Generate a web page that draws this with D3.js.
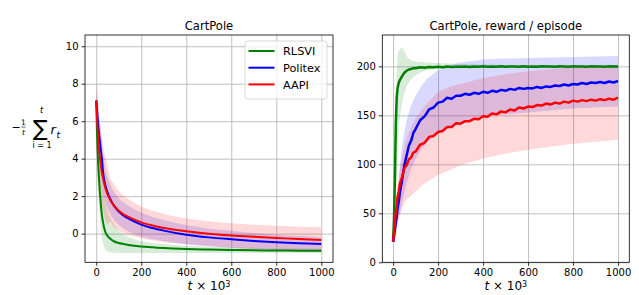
<!DOCTYPE html>
<html>
<head>
<meta charset="utf-8">
<script src="https://cdn.jsdelivr.net/npm/d3@7"></script>
<style>
body { margin: 0; background: #fff; }
svg text { font-family: "DejaVu Sans", sans-serif; fill: #000; }
</style>
</head>
<body>
<svg id="chart" width="639" height="295"></svg>
<script>
// series names, shared by both panels
const names = ["RLSVI", "Politex", "AAPI"];

// left panel: -(1/t) sum r_t, t in thousands
const tLeft = [0, 3, 6, 10, 15, 20, 25, 30, 40, 50, 60, 80, 100, 125, 150, 200, 250, 300, 400, 500, 600, 700, 800, 900, 1000];
const rlsviLeft = [7.1, 5.5, 4.4, 3.4, 2.4, 1.6, 1.0, 0.6, 0.1, -0.12, -0.25, -0.42, -0.5, -0.56, -0.62, -0.69, -0.73, -0.77, -0.82, -0.85, -0.87, -0.89, -0.9, -0.91, -0.92];
const rlsviLeftHi = [7.1, 6.6, 5.9, 5.2, 4.3, 3.6, 3.0, 2.5, 1.7, 1.2, 0.9, 0.45, 0.15, -0.05, -0.2, -0.4, -0.5, -0.55, -0.65, -0.7, -0.73, -0.76, -0.78, -0.8, -0.81];
const rlsviLeftLo = [7.1, 4.3, 3.0, 2.0, 1.0, 0.3, -0.2, -0.5, -0.85, -0.95, -1.0, -1.02, -1.03, -1.03, -1.03, -1.03, -1.03, -1.03, -1.03, -1.03, -1.03, -1.03, -1.03, -1.03, -1.03];
const politexLeft = [7.1, 6.7, 6.2, 5.6, 5.05, 4.5, 4.0, 3.3, 2.6, 2.2, 1.9, 1.46, 1.18, 0.93, 0.76, 0.48, 0.3, 0.16, -0.06, -0.2, -0.3, -0.39, -0.46, -0.51, -0.55];
const politexLeftHi = [7.1, 7.3, 7.0, 6.5, 6.05, 5.5, 5.0, 4.25, 3.5, 3.05, 2.7, 2.21, 1.9, 1.63, 1.44, 1.13, 0.9, 0.73, 0.46, 0.28, 0.15, 0.03, -0.06, -0.13, -0.19];
const politexLeftLo = [7.1, 6.1, 5.4, 4.7, 4.05, 3.5, 3.0, 2.35, 1.7, 1.35, 1.1, 0.71, 0.46, 0.23, 0.08, -0.17, -0.3, -0.41, -0.58, -0.68, -0.75, -0.81, -0.86, -0.89, -0.91];
const aapiLeft = [7.1, 6.3, 5.6, 4.85, 4.2, 3.7, 3.25, 2.95, 2.45, 2.1, 1.85, 1.48, 1.22, 1.0, 0.85, 0.6, 0.43, 0.3, 0.13, 0.0, -0.1, -0.17, -0.23, -0.29, -0.34];
const aapiLeftHi = [7.1, 8.0, 7.4, 6.75, 6.1, 5.6, 5.05, 4.7, 4.15, 3.7, 3.05, 2.63, 2.27, 2.0, 1.8, 1.45, 1.23, 1.05, 0.82, 0.66, 0.55, 0.48, 0.42, 0.38, 0.34];
const aapiLeftLo = [7.1, 4.6, 3.8, 2.95, 2.3, 1.8, 1.45, 1.2, 0.75, 0.5, 0.65, 0.33, 0.17, 0.0, -0.1, -0.25, -0.37, -0.45, -0.56, -0.66, -0.75, -0.82, -0.88, -0.94, -1.0];

// right panel: reward per episode
const tRight = [0, 4, 8, 12, 16, 20, 25, 30, 40, 50, 60, 70, 80, 90, 100, 120, 140, 160, 180, 200, 220, 240, 260, 280, 300, 320, 340, 360, 380, 400, 420, 440, 460, 480, 500, 520, 540, 560, 580, 600, 620, 640, 660, 680, 700, 720, 740, 760, 780, 800, 820, 840, 860, 880, 900, 920, 940, 960, 980, 1000];
const rlsviRight = [21, 45, 85, 140, 168, 178, 183, 186, 190, 193.5, 195.5, 196.8, 197.2, 198.3, 198.0, 199.1, 198.6, 199.4, 199.0, 199.6, 199.2, 199.8, 199.3, 199.7, 199.5, 199.9, 199.4, 199.8, 199.6, 200, 199.5, 199.9, 199.7, 200, 199.6, 199.9, 199.8, 199.5, 200, 199.7, 199.9, 199.6, 200, 199.8, 199.9, 199.6, 200, 199.8, 199.7, 200, 199.8, 199.9, 199.7, 200, 199.8, 199.9, 199.7, 200, 199.8, 199.9];
const politexRight = [21, 27, 34, 40, 47, 55, 62, 71, 84, 99, 109, 119, 124, 132, 136, 145, 149, 156, 158, 163, 164, 168, 167, 170, 170, 172, 171, 173, 172, 174, 173, 175, 174, 176, 175, 177, 176, 178, 177, 178, 177.5, 179, 178, 179.5, 179, 180.5, 180, 181.5, 180.5, 182, 181.5, 183, 182, 183.5, 183, 184, 183, 184.5, 183.5, 185];
const aapiRight = [21, 31, 40, 51, 58, 67, 72, 80, 87, 96, 99, 105, 107, 112, 113, 120, 122, 128, 129, 133, 134, 138, 138, 142, 141.5, 144, 144, 146.5, 146, 149, 148.5, 152, 151, 154, 153, 156, 155, 158, 157, 159, 158.5, 160.5, 160, 162, 161, 163, 162, 164, 163, 165, 164, 165.5, 164.5, 166, 165, 166.5, 165.5, 167, 166, 168];

const tBand = [0, 5, 10, 15, 20, 30, 40, 50, 60, 80, 100, 125, 150, 200, 250, 300, 400, 500, 600, 700, 800, 900, 1000];
const rlsviRightHi = [21, 70, 140, 190, 212, 218, 219, 216, 210, 206, 205, 204.5, 204, 203.5, 203, 202.5, 202, 201.5, 201.5, 201.2, 201, 201, 201];
const rlsviRightLo = [20, 22, 35, 80, 120, 148, 163, 172, 180, 187, 191, 194, 196, 197.5, 198, 198.5, 198.8, 199, 199, 199, 199, 199, 199];
const politexRightHi = [22, 35, 48, 62, 75, 98, 118, 133, 145, 160, 170, 180, 187, 196, 201, 204, 207, 208, 208.5, 209, 209.5, 210, 210.5];
const politexRightLo = [20, 22, 25, 32, 40, 50, 60, 70, 80, 95, 105, 115, 122, 132, 138, 142, 148, 151, 153, 155, 157, 158, 159];
const aapiRightHi = [22, 38, 52, 64, 75, 95, 108, 118, 126, 138, 147, 155, 162, 174, 179, 182, 188, 192, 195, 197, 199, 200, 201];
const aapiRightLo = [20, 22, 25, 32, 40, 48, 55, 60, 64, 68, 72, 78, 82, 89, 94, 99, 106, 111, 115, 118, 121, 123, 125];

// ticks
const xTicks = [0, 200, 400, 600, 800, 1000];
const yTicksLeft = [0, 2, 4, 6, 8, 10];
const yTicksRight = [0, 50, 100, 150, 200];

const colors = ["#008000", "#0000ff", "#ff0000"];

const svg = d3.select("#chart");

function panel(opt) {
    const g = svg.append("g");
    const x = d3.scaleLinear().domain(opt.xDomain).range([opt.left, opt.right]);
    const y = d3.scaleLinear().domain(opt.yDomain).range([opt.bottom, opt.top]);
    const w = opt.right - opt.left, h = opt.bottom - opt.top;

    g.append("clipPath").attr("id", opt.id + "-clip")
        .append("rect").attr("x", opt.left).attr("y", opt.top).attr("width", w).attr("height", h);

    // grid
    g.append("g").attr("transform", `translate(0,${opt.bottom})`)
        .call(d3.axisBottom(x).tickValues(xTicks).tickSize(-h).tickFormat(""))
        .call(s => s.select(".domain").remove())
        .selectAll("line").attr("stroke", "#b0b0b0").attr("stroke-width", 0.8);
    g.append("g").attr("transform", `translate(${opt.left},0)`)
        .call(d3.axisLeft(y).tickValues(opt.yTicks).tickSize(-w).tickFormat(""))
        .call(s => s.select(".domain").remove())
        .selectAll("line").attr("stroke", "#b0b0b0").attr("stroke-width", 0.8);

    const plot = g.append("g").attr("clip-path", `url(#${opt.id}-clip)`);

    opt.bands.forEach((b, i) => {
        const area = d3.area()
            .x((d, j) => x(b.t[j]))
            .y0((d, j) => y(b.lo[j]))
            .y1((d, j) => y(b.hi[j]))
            .curve(opt.curve);
        plot.append("path").datum(b.t)
            .attr("d", area)
            .attr("fill", colors[i])
            .attr("fill-opacity", 0.15);
    });

    opt.lines.forEach((l, i) => {
        const line = d3.line()
            .x((d, j) => x(l.t[j]))
            .y(d => y(d))
            .curve(opt.curve);
        plot.append("path").datum(l.v)
            .attr("d", line)
            .attr("fill", "none")
            .attr("stroke", colors[i])
            .attr("stroke-width", opt.lineWidth)
            .attr("stroke-linejoin", "round");
    });

    // axes
    const xa = g.append("g").attr("transform", `translate(0,${opt.bottom})`)
        .call(d3.axisBottom(x).tickValues(xTicks).tickSize(3.5).tickPadding(3).tickFormat(d3.format("d")));
    const ya = g.append("g").attr("transform", `translate(${opt.left},0)`)
        .call(d3.axisLeft(y).tickValues(opt.yTicks).tickSize(3.5).tickPadding(3).tickFormat(d3.format("d")));
    [xa, ya].forEach(a => {
        a.select(".domain").remove();
        a.selectAll("line").attr("stroke", "#000").attr("stroke-width", 0.8);
        a.selectAll("text").attr("font-size", "10px").attr("font-family", "DejaVu Sans");
    });

    g.append("rect")
        .attr("x", opt.left).attr("y", opt.top).attr("width", w).attr("height", h)
        .attr("fill", "none").attr("stroke", "#000").attr("stroke-width", 0.8);

    g.append("text")
        .attr("x", (opt.left + opt.right) / 2).attr("y", opt.top - 5.5)
        .attr("text-anchor", "middle").attr("font-size", "11.6px")
        .text(opt.title);

    const xl = g.append("text")
        .attr("x", (opt.left + opt.right) / 2).attr("y", 290)
        .attr("text-anchor", "middle").attr("font-size", "12px");
    xl.append("tspan").attr("font-style", "italic").text("t");
    xl.append("tspan").text(" × 10");
    xl.append("tspan").attr("font-size", "8px").attr("dy", "-3.5").text("3");

    return { x, y };
}

panel({
    id: "left", left: 85, right: 333, top: 35, bottom: 262.3,
    xDomain: [-50, 1052], yDomain: [-1.53, 10.6], yTicks: yTicksLeft,
    title: "CartPole", curve: d3.curveMonotoneX, lineWidth: 2,
    bands: [
        { t: tLeft, lo: rlsviLeftLo, hi: rlsviLeftHi },
        { t: tLeft, lo: politexLeftLo, hi: politexLeftHi },
        { t: tLeft, lo: aapiLeftLo, hi: aapiLeftHi }
    ],
    lines: [
        { t: tLeft, v: rlsviLeft },
        { t: tLeft, v: politexLeft },
        { t: tLeft, v: aapiLeft }
    ]
});

panel({
    id: "right", left: 382.3, right: 629.3, top: 35, bottom: 262.3,
    xDomain: [-48, 1050], yDomain: [0, 232], yTicks: yTicksRight,
    title: "CartPole, reward / episode", curve: d3.curveLinear, lineWidth: 2.5,
    bands: [
        { t: tBand, lo: rlsviRightLo, hi: rlsviRightHi },
        { t: tBand, lo: politexRightLo, hi: politexRightHi },
        { t: tBand, lo: aapiRightLo, hi: aapiRightHi }
    ],
    lines: [
        { t: tRight, v: rlsviRight },
        { t: tRight, v: politexRight },
        { t: tRight, v: aapiRight }
    ]
});

// legend, upper right of the left panel
const legend = svg.append("g").attr("transform", "translate(245,41)");
legend.append("rect")
    .attr("width", 82).attr("height", 58).attr("rx", 2.5)
    .attr("fill", "#fff").attr("fill-opacity", 0.8)
    .attr("stroke", "#d0d0d0").attr("stroke-width", 0.8);
names.forEach((n, i) => {
    const yy = 10 + i * 16.7;
    legend.append("line")
        .attr("x1", 3.5).attr("x2", 29.5).attr("y1", yy).attr("y2", yy)
        .attr("stroke", colors[i]).attr("stroke-width", 2);
    legend.append("text")
        .attr("x", 38).attr("y", yy + 4.2)
        .attr("font-size", "11.3px").text(n);
});

// y label of the left panel: -(1/t) sum_{i=1}^{t} r_t, one text with placed pieces
const ylabel = svg.append("text");
const piece = (s, x, y, size, italic, anchor) => ylabel.append("tspan")
    .attr("x", x).attr("y", y).attr("font-size", size + "px")
    .attr("font-style", italic ? "italic" : "normal")
    .attr("text-anchor", anchor || "start").text(s);
piece("−", 11.5, 130.5, 11);
piece("1", 23.5, 124.5, 7.5, false, "middle");
piece("t", 23.5, 134.5, 7.5, true, "middle");
piece("∑", 40.5, 135.5, 22, false, "middle");
piece("t", 41.5, 113, 8, true, "middle");
piece("i = 1", 42, 148.2, 8, false, "middle");
piece("r", 50.5, 134, 13, true);
piece("t", 56.5, 137.5, 9, true);
svg.append("line").attr("x1", 21.3).attr("x2", 25.7).attr("y1", 127).attr("y2", 127)
    .attr("stroke", "#000").attr("stroke-width", 0.6);
</script>
</body>
</html>
